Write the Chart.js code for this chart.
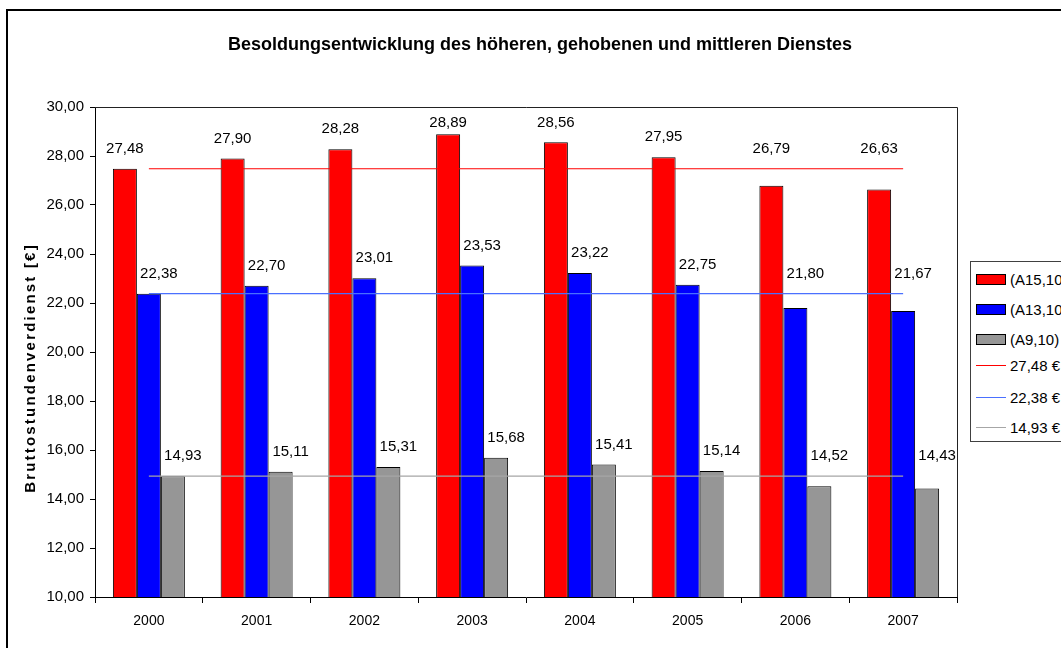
<!DOCTYPE html>
<html>
<head>
<meta charset="utf-8">
<script src="https://cdn.jsdelivr.net/npm/chart.js@4"></script>
<style>
  html, body { margin: 0; padding: 0; background: #fff; overflow: hidden; }
  #wrap { position: relative; width: 1061px; height: 648px; }
  #legend {
    position: absolute; left: 970px; top: 261px; width: 120px; height: 179px;
    border: 1px solid #404040; background: #fff;
    font: 15px "Liberation Sans", Arial, sans-serif; color: #000;
  }
  .row { position: absolute; left: 5px; height: 18px; display: flex; align-items: center; white-space: nowrap; }
  .box { width: 28px; height: 9px; border: 1px solid #000; margin-right: 4px; }
  .ln { width: 30px; height: 0; border-top: 1px solid; margin-right: 4px; }
</style>
</head>
<body>
<div id="wrap">
  <canvas id="chart" width="1061" height="648"></canvas>
  <div id="legend"></div>
</div>
<script>
const years = ["2000", "2001", "2002", "2003", "2004", "2005", "2006", "2007"];
const a15 = [27.48, 27.90, 28.28, 28.89, 28.56, 27.95, 26.79, 26.63];
const a13 = [22.38, 22.70, 23.01, 23.53, 23.22, 22.75, 21.80, 21.67];
const a9 = [14.93, 15.11, 15.31, 15.68, 15.41, 15.14, 14.52, 14.43];
// reference lines = 2000 level
const ref15 = [27.48, 27.48, 27.48, 27.48, 27.48, 27.48, 27.48, 27.48];
const ref13 = [22.38, 22.38, 22.38, 22.38, 22.38, 22.38, 22.38, 22.38];
const ref9 = [14.93, 14.93, 14.93, 14.93, 14.93, 14.93, 14.93, 14.93];
const barNames = ["(A15,10)", "(A13,10)", "(A9,10)"];
const lineNames = ["27,48 €", "22,38 €", "14,93 €"];

const fmt = v => v.toFixed(2).replace(".", ",");
const FONT = '"Liberation Sans", Arial, sans-serif';

const frame = {
  id: "frame",
  beforeDraw(chart) {
    const ctx = chart.ctx;
    ctx.save();
    ctx.fillStyle = "#fff";
    ctx.fillRect(0, 0, chart.width, chart.height);
    ctx.strokeStyle = "#000";
    ctx.lineWidth = 2;
    ctx.beginPath();
    ctx.moveTo(7, 700);
    ctx.lineTo(7, 10);
    ctx.lineTo(1100, 10);
    ctx.stroke();
    ctx.restore();
  },
  afterDraw(chart) {
    const ctx = chart.ctx, a = chart.chartArea;
    ctx.save();
    ctx.strokeStyle = "#222";
    ctx.lineWidth = 1;
    ctx.beginPath();
    ctx.moveTo(a.left, a.top + 0.5);
    ctx.lineTo(a.right + 0.5, a.top + 0.5);
    ctx.lineTo(a.right + 0.5, a.bottom);
    ctx.stroke();
    // title
    ctx.fillStyle = "#000";
    ctx.font = "bold 18px " + FONT;
    ctx.textAlign = "center";
    ctx.textBaseline = "middle";
    ctx.fillText("Besoldungsentwicklung des höheren, gehobenen und mittleren Dienstes", 540, 45);
    // y axis title
    ctx.translate(31, 368);
    ctx.rotate(-Math.PI / 2);
    ctx.font = "bold 15px " + FONT;
    ctx.letterSpacing = "2.2px";
    ctx.fillText("Bruttostundenverdienst [€]", 0, 0);
    ctx.restore();
  }
};

const valueLabels = {
  id: "valueLabels",
  afterDatasetsDraw(chart) {
    const ctx = chart.ctx, y = chart.scales.y;
    const refs = [ref15, ref13, ref9];
    const dx = [0, 10, 10];
    ctx.save();
    ctx.font = "15px " + FONT;
    ctx.fillStyle = "#000";
    ctx.textAlign = "center";
    ctx.textBaseline = "middle";
    for (let d = 0; d < 3; d++) {
      const ds = chart.data.datasets[d];
      chart.getDatasetMeta(d).data.forEach((bar, i) => {
        const v = ds.data[i];
        let py = y.getPixelForValue(Math.max(v, refs[d][i])) - 20;
        py = Math.max(py, chart.chartArea.top + 16);
        ctx.fillText(fmt(v), bar.x + dx[d], py);
      });
    }
    ctx.restore();
  }
};

const barColors = ["#ff0000", "#0000ff", "#969696"];
const lineColors = ["#ff0000", "#4a70ff", "#a6a6a6"];

new Chart(document.getElementById("chart"), {
  type: "bar",
  data: {
    labels: years,
    datasets: [
      { label: barNames[0], data: a15, backgroundColor: barColors[0], borderColor: "#000", borderWidth: 1, borderSkipped: false, order: 2 },
      { label: barNames[1], data: a13, backgroundColor: barColors[1], borderColor: "#000", borderWidth: 1, borderSkipped: false, order: 2 },
      { label: barNames[2], data: a9, backgroundColor: barColors[2], borderColor: "#000", borderWidth: 1, borderSkipped: false, order: 2 },
      { type: "line", label: lineNames[0], data: ref15, borderColor: lineColors[0], borderWidth: 1.2, pointRadius: 0, order: 1 },
      { type: "line", label: lineNames[1], data: ref13, borderColor: lineColors[1], borderWidth: 1.2, pointRadius: 0, order: 1 },
      { type: "line", label: lineNames[2], data: ref9, borderColor: lineColors[2], borderWidth: 1.2, pointRadius: 0, order: 1 }
    ]
  },
  options: {
    responsive: false,
    animation: false,
    devicePixelRatio: 1,
    categoryPercentage: 0.668,
    barPercentage: 1.0,
    layout: { padding: { left: 0, top: 107, right: 104, bottom: 0 } },
    plugins: { legend: { display: false }, title: { display: false }, tooltip: { enabled: false } },
    scales: {
      x: {
        afterFit: s => { s.height = 51; },
        grid: { offset: true, drawOnChartArea: false, tickLength: 6, color: "#000" },
        border: { color: "#000", width: 1 },
        ticks: { color: "#000", font: { family: FONT, size: 14 }, padding: 10 }
      },
      y: {
        min: 10, max: 30,
        afterFit: s => { s.width = 95; },
        grid: { drawOnChartArea: false, tickLength: 5, color: "#000" },
        border: { color: "#000", width: 1 },
        ticks: { stepSize: 2, color: "#000", font: { family: FONT, size: 15 }, padding: 6, callback: v => fmt(v) }
      }
    }
  },
  plugins: [frame, valueLabels]
});

// legend
const lg = document.getElementById("legend");
const tops = [8, 38, 68, 94, 126, 156];
barNames.forEach((n, i) => {
  lg.insertAdjacentHTML("beforeend",
    `<div class="row" style="top:${tops[i]}px"><div class="box" style="background:${barColors[i]}"></div>${n}</div>`);
});
lineNames.forEach((n, i) => {
  lg.insertAdjacentHTML("beforeend",
    `<div class="row" style="top:${tops[i + 3]}px"><div class="ln" style="border-color:${lineColors[i]}"></div>${n}</div>`);
});
</script>
</body>
</html>
